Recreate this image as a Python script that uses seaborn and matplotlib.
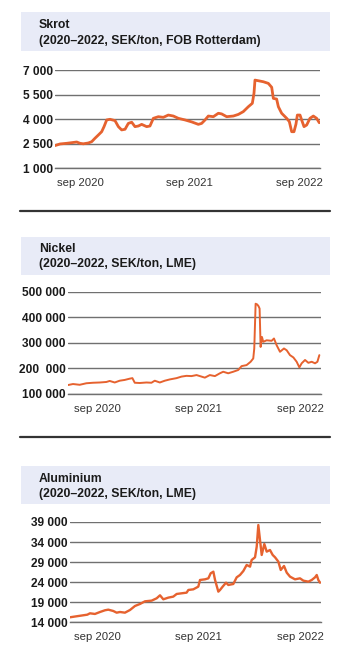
import numpy as np
import pandas as pd
import matplotlib
matplotlib.use("Agg")
import matplotlib.pyplot as plt
from matplotlib.patches import Rectangle
from matplotlib.lines import Line2D
import seaborn as sns

# x values are months counted from jan 2020 (sep 2020 = 8)
skrot_month = [5.26, 5.81, 6.54, 7.09, 7.64, 8.00, 8.36, 8.91, 9.28, 9.64,
               10.01, 10.37, 10.63, 10.92, 11.28, 11.83, 12.20, 12.56, 12.93, 13.29,
               13.66, 14.02, 14.39, 14.75, 15.30, 15.66, 16.03, 16.58, 17.12, 17.67,
               18.22, 18.77, 19.50, 20.23, 20.96, 21.32, 21.69, 22.05, 22.60, 23.15,
               23.51, 24.06, 24.79, 25.34, 25.88, 26.43, 26.87, 27.05, 27.16, 27.53,
               28.07, 28.62, 28.99, 29.17, 29.53, 29.72, 30.08, 30.63, 30.92, 31.18,
               31.43, 31.65, 31.80, 32.09, 32.27, 32.53, 32.82, 33.18, 33.55, 33.91,
               34.20]
skrot_sek = [2390, 2490, 2530, 2570, 2610, 2530, 2500, 2550, 2630, 2840,
             3040, 3240, 3550, 3960, 4000, 3920, 3550, 3350, 3390, 3750,
             3820, 3550, 3590, 3690, 3550, 3590, 4060, 4160, 4120, 4260,
             4200, 4060, 3960, 3840, 3690, 3750, 3960, 4200, 4160, 4370,
             4330, 4160, 4200, 4300, 4470, 4770, 4980, 5590, 6400, 6360,
             6300, 6200, 5960, 5280, 5240, 4770, 4370, 4060, 3860, 3240,
             3240, 3710, 4260, 4260, 3960, 3550, 3650, 4060, 4200, 4060,
             3790]

nickel_month = [4.57, 5.16, 5.95, 6.74, 7.53, 8.32, 9.10, 9.50, 10.09, 10.68,
                11.27, 11.87, 12.18, 12.46, 13.05, 13.84, 14.43, 14.82, 15.42, 16.01,
                16.60, 17.39, 17.98, 18.57, 19.16, 19.76, 20.35, 20.74, 21.33, 21.93,
                22.52, 22.91, 23.50, 24.09, 24.69, 25.08, 25.67, 26.15, 26.46, 26.58,
                26.74, 26.93, 27.09, 27.21, 27.33, 27.49, 27.64, 28.04, 28.63, 28.91,
                29.22, 29.62, 30.09, 30.41, 30.80, 31.20, 31.59, 31.91, 32.18, 32.58,
                32.97, 33.37, 33.76, 34.04, 34.27]
nickel_sek = [135000, 139000, 136000, 142000, 144000, 145000, 147000, 151000, 145000, 152000,
              155000, 160000, 162000, 144000, 143000, 145000, 144000, 152000, 145000, 152000,
              157000, 162000, 168000, 171000, 170000, 174000, 168000, 164000, 174000, 170000,
              181000, 187000, 181000, 187000, 194000, 209000, 213000, 226000, 239000, 278000,
              453000, 450000, 443000, 434000, 284000, 323000, 304000, 310000, 308000, 317000,
              291000, 265000, 278000, 271000, 252000, 243000, 226000, 204000, 220000, 233000,
              222000, 226000, 220000, 226000, 252000]

alu_month = [4.77, 5.55, 6.34, 6.82, 7.13, 7.72, 8.32, 8.91, 9.30, 9.89,
             10.29, 10.68, 11.27, 11.87, 12.46, 13.05, 13.64, 14.43, 15.02, 15.42,
             15.81, 16.40, 16.99, 17.39, 17.98, 18.57, 18.77, 19.36, 19.95, 20.15,
             20.74, 21.14, 21.41, 21.73, 21.93, 22.32, 22.52, 22.83, 23.23, 23.50,
             24.09, 24.49, 24.88, 25.28, 25.67, 26.07, 26.26, 26.66, 26.86, 27.05,
             27.25, 27.45, 27.76, 28.04, 28.43, 28.75, 29.03, 29.42, 29.70, 30.09,
             30.41, 30.80, 31.39, 31.98, 32.38, 32.97, 33.37, 33.76, 33.96, 34.15,
             34.35]
alu_sek = [15250, 15500, 15750, 15900, 16240, 16080, 16570, 17000, 17150, 16820,
           16400, 16570, 16400, 17070, 18070, 18570, 19230, 19400, 19980, 20730,
           19730, 20150, 20400, 21060, 21230, 21390, 22060, 22220, 22890, 24550,
           24710, 24960, 26210, 26620, 24550, 21640, 22060, 22890, 23880, 23300,
           23550, 25210, 25790, 26790, 28290, 27870, 29530, 30200, 32850, 38250,
           34520, 30780, 33520, 31610, 32020, 30780, 30200, 29120, 27040, 28040,
           26380, 25380, 24710, 24960, 24380, 24130, 24550, 25210, 25790, 24550,
           23880]

skrot_ticks = [1000, 2500, 4000, 5500, 7000]
skrot_labels = ["1 000", "2 500", "4 000", "5 500", "7 000"]
nickel_ticks = [100000, 200000, 300000, 400000, 500000]
nickel_labels = ["100 000", "200  000", "300 000", "400 000", "500 000"]
alu_ticks = [14000, 19000, 24000, 29000, 34000, 39000]
alu_labels = ["14 000", "19 000", "24 000", "29 000", "34 000", "39 000"]

x_label_pos = [8, 20, 32]
x_labels = ["sep 2020", "sep 2021", "sep 2022"]

titles = [("Skrot", "(2020–2022, SEK/ton, FOB Rotterdam)"),
          ("Nickel", "(2020–2022, SEK/ton, LME)"),
          ("Aluminium", "(2020–2022, SEK/ton, LME)")]

LINE = "#e6622f"
GRID = "#707070"
HEAD = "#e8ebf7"
W, H = 350, 667

sns.set_style("white")
plt.rcParams['font.family'] = ['Liberation Sans', 'DejaVu Sans']

fig = plt.figure(figsize=(3.5, 6.67), dpi=100)


def box(x0, y0, x1, y1):
    return [x0 / W, 1 - y1 / H, (x1 - x0) / W, (y1 - y0) / H]


def header(y0, y1, t1y, t2y, t):
    fig.patches.append(Rectangle((21 / W, 1 - y1 / H), 309 / W, (y1 - y0) / H,
                                 transform=fig.transFigure, facecolor=HEAD,
                                 edgecolor="none", zorder=0))
    fig.text(39 / W, 1 - t1y / H, t[0], fontsize=8.8, fontweight="bold",
             va="center", ha="left", color="#1a1a1a")
    fig.text(39 / W, 1 - t2y / H, t[1], fontsize=8.8, fontweight="bold",
             va="center", ha="left", color="#1a1a1a")


def panel(rect, months, values, xlim, yticks, ylabels, lw, minor):
    ax = fig.add_axes(rect)
    df = pd.DataFrame({"month": months, "value": values})
    sns.lineplot(data=df, x="month", y="value", ax=ax, color=LINE,
                 linewidth=lw, sort=False, zorder=3)
    ax.set_xlim(*xlim)
    ax.set_ylim(yticks[0], yticks[-1])
    ax.set_yticks(yticks)
    ax.set_yticklabels(ylabels, fontsize=8.6, fontweight="bold", color="#1a1a1a")
    ax.set_xticks(x_label_pos)
    ax.set_xticklabels(x_labels, fontsize=8.2, color="#333333")
    ax.set_xticks(minor, minor=True)
    ax.tick_params(axis="x", which="major", length=0, pad=7)
    ax.tick_params(axis="x", which="minor", length=2.5, width=0.8, color=GRID,
                   direction="out")
    ax.tick_params(axis="y", length=0, pad=1.5)
    for s in ["top", "right", "left"]:
        ax.spines[s].set_visible(False)
    ax.spines["bottom"].set_color(GRID)
    ax.spines["bottom"].set_linewidth(1.0)
    ax.grid(axis="y", color=GRID, linewidth=1.0)
    ax.grid(axis="x", visible=False)
    ax.set_axisbelow(True)
    ax.set_xlabel("")
    ax.set_ylabel("")
    ax.patch.set_alpha(0)
    return ax


# Skrot
header(12, 51, 25, 41, titles[0])
skrot_lim = (5.26, 34.28)
panel(box(55, 70.3, 320, 168.3), skrot_month, skrot_sek, skrot_lim,
      skrot_ticks, skrot_labels, 2.0, np.linspace(skrot_lim[0], skrot_lim[1], 12))
fig.lines.append(Line2D([20 / W, 330 / W], [1 - 211 / H, 1 - 211 / H],
                        transform=fig.transFigure, color="#333333", linewidth=1.6))

# Nickel
header(236.7, 275, 249.5, 264.5, titles[1])
nickel_lim = (4.57, 34.43)
panel(box(68, 291.7, 320.7, 394), nickel_month, nickel_sek, nickel_lim,
      nickel_ticks, nickel_labels, 1.4, [nickel_lim[0], 20.6, nickel_lim[1]])
fig.lines.append(Line2D([20 / W, 330 / W], [1 - 437 / H, 1 - 437 / H],
                        transform=fig.transFigure, color="#333333", linewidth=1.6))

# Aluminium
header(466, 504.3, 479, 494, titles[2])
alu_lim = (4.77, 34.43)
panel(box(70, 522, 320.7, 622.3), alu_month, alu_sek, alu_lim,
      alu_ticks, alu_labels, 1.7, [alu_lim[0], 20.5, alu_lim[1]])

fig.savefig("out.png", dpi=100)
